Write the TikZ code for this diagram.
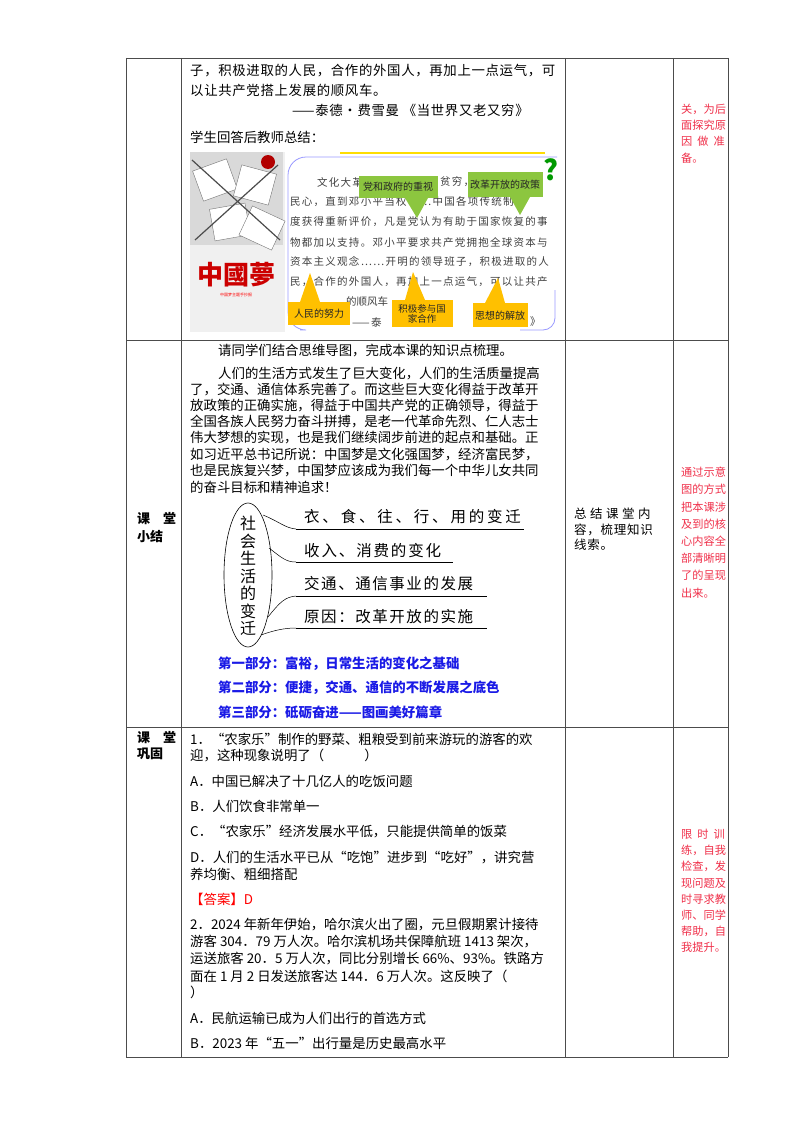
\documentclass[tikz,border=0pt]{standalone}
\usepackage{fontspec}
\setmainfont{Noto Sans CJK SC}
\usetikzlibrary{shapes.geometric}
\definecolor{redtxt}{HTML}{F0304A}
\definecolor{bluetxt}{HTML}{1A1AE6}
\definecolor{callY}{HTML}{FFC000}
\definecolor{callG}{HTML}{8CC63F}
\newcommand{\fs}[1]{\fontsize{#1}{#1}\selectfont}
\tikzset{
  line/.style={anchor=west,inner sep=0pt,font=\fs{13.4}},
  wide/.style={anchor=west,inner sep=0pt,font=\fs{13.4}\addfontfeature{LetterSpace=5}},
  lab/.style={anchor=west,inner sep=0pt,font=\fs{13}\bfseries},
  note/.style={anchor=north west,inner sep=0pt,align=left,font=\fs{11.2},text=redtxt},
  blue/.style={anchor=west,inner sep=0pt,font=\fs{13.4}\bfseries,text=bluetxt},
  branch/.style={anchor=west,inner sep=0pt,font=\fs{15.5}\addfontfeature{LetterSpace=18}},
  img/.style={anchor=west,inner sep=0pt,font=\fs{10.5}\addfontfeature{LetterSpace=12},text=black!75},
  grid/.style={draw=black!70,line width=0.8pt},
  ctext/.style={inner sep=0pt,font=\fs{10},align=center,text=black!85}
}
\begin{document}
\begin{tikzpicture}[x=1pt,y=-1pt]
\useasboundingbox (0,0) rectangle (800,1132);
\fill[white] (0,0) rectangle (800,1132);
% grid
\draw[grid] (126,58) -- (728,58);
\draw[grid] (126,340) -- (728,340);
\draw[grid] (126,727) -- (728,727);
\draw[grid] (126,1057) -- (728,1057);
\foreach \x in {126,181,565,673,728} \draw[grid] (\x,58) -- (\x,1057);

% row 1
\node[wide] (r1a) at (190,71) {子，积极进取的人民，合作的外国人，再加上一点运气，可};
\node[wide] (r1b) at (190,90) {以让共产党搭上发展的顺风车。};
\node[wide] (r1c) at (292,110) {——泰德·费雪曼 《当世界又老又穷》};
\node[line] (r1d) at (190,137) {学生回答后教师总结：};
% image
\fill[black!6] (190,152) rectangle (557,332);
\fill[white] (285,152) rectangle (557,332);
\fill[black!15] (190,152) rectangle (283,245);
\foreach \a/\cx/\cy in {20/215/180,-15/255/185,10/230/222,-25/262/228}
  \draw[black!55,fill=white,rotate around={\a:(\cx,\cy)}] (\cx-18,\cy-16) rectangle (\cx+18,\cy+16);
\draw[black!70,line width=1.2pt] (192,160) -- (280,240);
\draw[black!70,line width=1.2pt] (195,240) -- (278,165);
\fill[red!70!black] (268,162) circle (7);
\node[inner sep=0pt,font=\fs{26}\bfseries,text=red!80!black] (zgm) at (236,275) {中國夢};
\node[inner sep=0pt,font=\fs{4},text=red] (zgs) at (236,295) {中国梦主题手抄报};
\draw[yellow!80!orange,line width=1.5pt] (340,153) -- (545,153);
\draw[blue!40,line width=0.8pt,rounded corners=18pt] (300,330) -- (288,330) -- (288,157) -- (557,157);
\draw[blue!40,line width=0.8pt,rounded corners=12pt] (520,330) -- (555,330) -- (555,290);
\node[inner sep=0pt,font=\fs{28}\bfseries,text=green!60!black] (qm) at (551,170) {?};
\node[img] (i1) at (317,182) {文化大革};
\node[img] (i1b) at (440,182) {贫穷，};
\node[img] (i2) at (290,202) {民心，直到邓小平当权……中国各项传统制};
\node[img] (i3) at (290,222) {度获得重新评价，凡是党认为有助于国家恢复的事};
\node[img] (i4) at (290,242) {物都加以支持。邓小平要求共产党拥抱全球资本与};
\node[img] (i5) at (290,262) {资本主义观念……开明的领导班子，积极进取的人};
\node[img] (i6) at (290,282) {民，合作的外国人，再加上一点运气，可以让共产};
\node[img,font=\fs{10.5}] (i7) at (346,302) {的顺风车};
\node[img] (i8) at (352,322) {——泰};
\node[img] (i8b) at (530,322) {》};
% callouts
\fill[callG] (359,176) rectangle (438,198);
\fill[callG] (405,198) -- (417,218) -- (428,198) -- cycle;
\node[ctext] (c1) at (398,187) {党和政府的重视};
\fill[callG] (468,172) rectangle (543,197);
\fill[callG] (510,197) -- (520,215) -- (530,197) -- cycle;
\node[ctext] (c2) at (505,185) {改革开放的政策};
\fill[callY] (288,302) rectangle (350,325);
\fill[callY] (300,302) -- (310,273) -- (320,302) -- cycle;
\node[ctext] (c3) at (319,314) {人民的努力};
\fill[callY] (392,300) rectangle (453,327);
\fill[callY] (405,300) -- (413,272) -- (425,300) -- cycle;
\node[ctext,font=\fs{9.5}] (c4) at (422,314) {积极参与国\\家合作};
\fill[callY] (473,303) rectangle (528,327);
\fill[callY] (485,303) -- (498,278) -- (505,303) -- cycle;
\node[ctext] (c5) at (500,316) {思想的解放};
% right note 1
\node[note] (n1) at (681,104) {关，为后\\[5pt]面探究原\\[5pt]因\hspace{0.45em}做\hspace{0.45em}准\\[5pt]备。};

% row 2
\node[line] (p0) at (218,351) {请同学们结合思维导图，完成本课的知识点梳理。};
\node[line] (p1) at (218,374) {人们的生活方式发生了巨大变化，人们的生活质量提高};
\node[line] (p2) at (190,390) {了，交通、通信体系完善了。而这些巨大变化得益于改革开};
\node[line] (p3) at (190,406) {放政策的正确实施，得益于中国共产党的正确领导，得益于};
\node[line] (p4) at (190,422) {全国各族人民努力奋斗拼搏，是老一代革命先烈、仁人志士};
\node[line] (p5) at (190,438) {伟大梦想的实现，也是我们继续阔步前进的起点和基础。正};
\node[line] (p6) at (190,455) {如习近平总书记所说：中国梦是文化强国梦，经济富民梦，};
\node[line] (p7) at (190,471) {也是民族复兴梦，中国梦应该成为我们每一个中华儿女共同};
\node[line] (p8) at (190,487) {的奋斗目标和精神追求！};
% mind map
\node[draw,ellipse,line width=0.6pt,minimum width=48pt,minimum height=144pt,inner sep=0pt] (ell) at (248,575) {};
\node[inner sep=0pt,align=center,font=\fs{16}] (vt) at (248,576) {社\\[1.5pt]会\\[1.5pt]生\\[1.5pt]活\\[1.5pt]的\\[1.5pt]变\\[1.5pt]迁};
\node[branch] (b1) at (304,517) {衣、食、往、行、用的变迁};
\node[branch,font=\fs{15.5}\addfontfeature{LetterSpace=12}] (b2) at (304,551) {收入、消费的变化};
\node[branch,font=\fs{15.5}\addfontfeature{LetterSpace=10}] (b3) at (304,584) {交通、通信事业的发展};
\node[branch,font=\fs{15.5}\addfontfeature{LetterSpace=10}] (b4) at (304,617) {原因：改革开放的实施};
\coordinate (u1a) at (296,529); \coordinate (u1b) at (524,529);
\coordinate (u2a) at (296,562); \coordinate (u2b) at (453,562);
\coordinate (u3a) at (296,596); \coordinate (u3b) at (487,596);
\coordinate (u4a) at (296,628); \coordinate (u4b) at (487,628);
\foreach \i in {1,2,3,4} \draw[line width=0.6pt] (u\i a) -- (u\i b);
\coordinate (e1) at (263,515); \coordinate (e2) at (269,548);
\coordinate (e3) at (268,617); \coordinate (e4) at (261,635);
\draw[line width=0.5pt] (e1) .. controls (280,522) and (285,528) .. (u1a);
\draw[line width=0.5pt] (e2) .. controls (282,558) and (286,562) .. (u2a);
\draw[line width=0.5pt] (e3) .. controls (280,602) and (285,597) .. (u3a);
\draw[line width=0.5pt] (e4) .. controls (275,630) and (285,628) .. (u4a);
\node[blue] (bl1) at (218,664) {第一部分：富裕，日常生活的变化之基础};
\node[blue] (bl2) at (218,688) {第二部分：便捷，交通、通信的不断发展之底色};
\node[blue] (bl3) at (218,712) {第三部分：砥砺奋进——图画美好篇章};
\node[lab] (lab1) at (137,519) {课\hspace{1em}堂};
\node[lab] (lab2) at (137,537) {小结};
\node[note,text=black,font=\fs{12.5}\addfontfeature{LetterSpace=28}] (m1) at (574,508) {总结课堂内};
\node[note,text=black,font=\fs{12.5}\addfontfeature{LetterSpace=6}] (m2) at (574,524) {容，梳理知识\\[2pt]线索。};
\node[note] (n2) at (681,467) {通过示意\\[6pt]图的方式\\[6pt]把本课涉\\[6pt]及到的核\\[6pt]心内容全\\[6pt]部清晰明\\[6pt]了的呈现\\[6pt]出来。};

% row 3
\node[lab] (lab3) at (137,738) {课\hspace{1em}堂};
\node[lab] (lab4) at (137,754) {巩固};
\node[line] (q1a) at (190,739) {1．“农家乐”制作的野菜、粗粮受到前来游玩的游客的欢};
\node[line] (q1b) at (190,755) {迎，这种现象说明了（\hspace{3em}）};
\node[line] (q1A) at (190,781) {A．中国已解决了十几亿人的吃饭问题};
\node[line] (q1B) at (190,806) {B．人们饮食非常单一};
\node[line] (q1C) at (190,832) {C．“农家乐”经济发展水平低，只能提供简单的饭菜};
\node[line] (q1D) at (190,858) {D．人们的生活水平已从“吃饱”进步到“吃好”，讲究营};
\node[line] (q1E) at (190,874) {养均衡、粗细搭配};
\node[line,text=red] (ans) at (190,899) {【答案】D};
\node[line] (q2a) at (190,925) {2．2024 年新年伊始，哈尔滨火出了圈，元旦假期累计接待};
\node[line] (q2b) at (190,942) {游客 304．79 万人次。哈尔滨机场共保障航班 1413 架次，};
\node[line] (q2c) at (190,959) {运送旅客 20．5 万人次，同比分别增长 66\%、93\%。铁路方};
\node[line] (q2d) at (190,976) {面在 1 月 2 日发送旅客达 144．6 万人次。这反映了（};
\node[line] (q2e) at (190,992) {）};
\node[line] (q2A) at (190,1018) {A．民航运输已成为人们出行的首选方式};
\node[line] (q2B) at (190,1043) {B．2023 年“五一”出行量是历史最高水平};
\node[note] (n3) at (681,829) {限\hspace{0.45em}时\hspace{0.45em}训\\[5pt]练，自我\\[5pt]检查，发\\[5pt]现问题及\\[5pt]时寻求教\\[5pt]师、同学\\[5pt]帮助，自\\[5pt]我提升。};
\end{tikzpicture}
\end{document}
